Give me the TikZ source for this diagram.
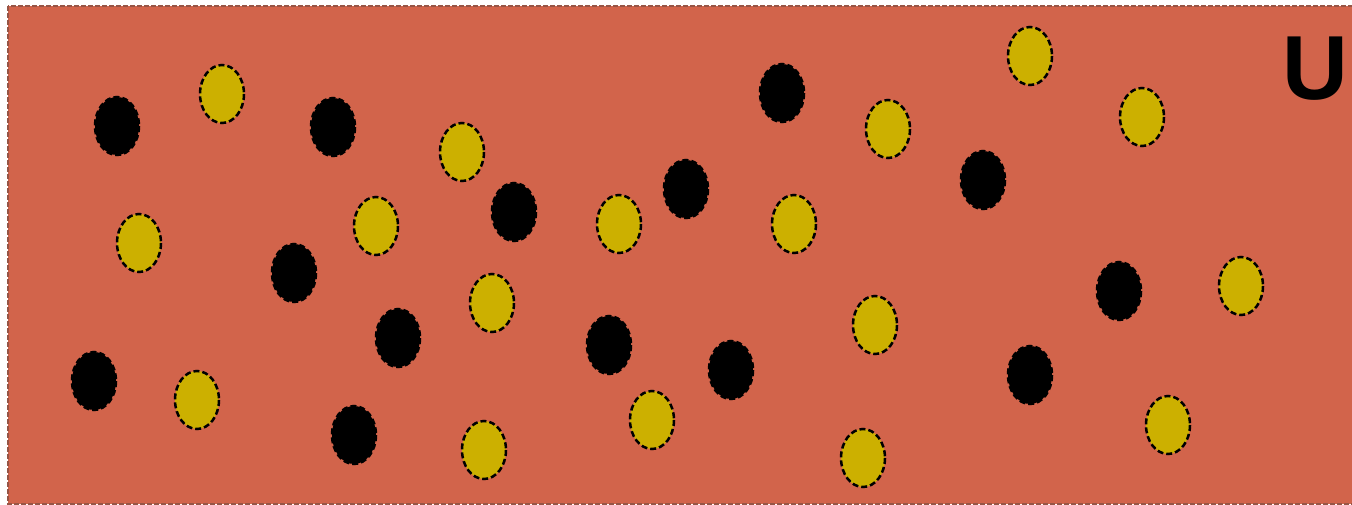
\documentclass[tikz,border=0pt]{standalone}
\usepackage{fontspec}
\setmainfont{Liberation Sans}
\definecolor{sfondo}{RGB}{210,100,75}
\definecolor{bordo}{RGB}{150,85,70}
\definecolor{giallo}{RGB}{204,176,0}
\tikzset{
  nera/.style={fill=black, draw=black, line width=2.5pt, dash pattern=on 6pt off 3pt},
  gialla/.style={fill=giallo, draw=black, line width=2.5pt, dash pattern=on 6pt off 3pt}
}
\begin{document}
\begin{tikzpicture}[x=1pt,y=-1pt]
        \useasboundingbox (0,0) rectangle (1352,505);
        %disegno sfondo
        \draw[fill=sfondo, draw=bordo, line width=1.5pt, dash pattern=on 5pt off 2pt](8,6) rectangle (1362,504);
        %particelle nere
        \draw[nera](117,126) ellipse (22 and 29);
        \draw[nera](333,127) ellipse (22 and 29);
        \draw[nera](782,93) ellipse (22 and 29);
        \draw[nera](686,189) ellipse (22 and 29);
        \draw[nera](514,212) ellipse (22 and 29);
        \draw[nera](983,180) ellipse (22 and 29);
        \draw[nera](294,273) ellipse (22 and 29);
        \draw[nera](398,338) ellipse (22 and 29);
        \draw[nera](609,345) ellipse (22 and 29);
        \draw[nera](731,370) ellipse (22 and 29);
        \draw[nera](94,381) ellipse (22 and 29);
        \draw[nera](354,435) ellipse (22 and 29);
        \draw[nera](1119,291) ellipse (22 and 29);
        \draw[nera](1030,375) ellipse (22 and 29);
        %particelle gialle
        \draw[gialla](222,94) ellipse (22 and 29);
        \draw[gialla](462,152) ellipse (22 and 29);
        \draw[gialla](888,129) ellipse (22 and 29);
        \draw[gialla](1030,56) ellipse (22 and 29);
        \draw[gialla](1142,117) ellipse (22 and 29);
        \draw[gialla](139,243) ellipse (22 and 29);
        \draw[gialla](376,226) ellipse (22 and 29);
        \draw[gialla](619,224) ellipse (22 and 29);
        \draw[gialla](794,224) ellipse (22 and 29);
        \draw[gialla](492,303) ellipse (22 and 29);
        \draw[gialla](1241,286) ellipse (22 and 29);
        \draw[gialla](875,325) ellipse (22 and 29);
        \draw[gialla](197,400) ellipse (22 and 29);
        \draw[gialla](652,420) ellipse (22 and 29);
        \draw[gialla](484,450) ellipse (22 and 29);
        \draw[gialla](863,458) ellipse (22 and 29);
        \draw[gialla](1168,425) ellipse (22 and 29);
        %etichetta
        \node[anchor=base west, inner sep=0pt, font=\fontsize{91}{91}\selectfont\bfseries](etichetta) at (1282.5,100) {U};
    \end{tikzpicture}
\end{document}
